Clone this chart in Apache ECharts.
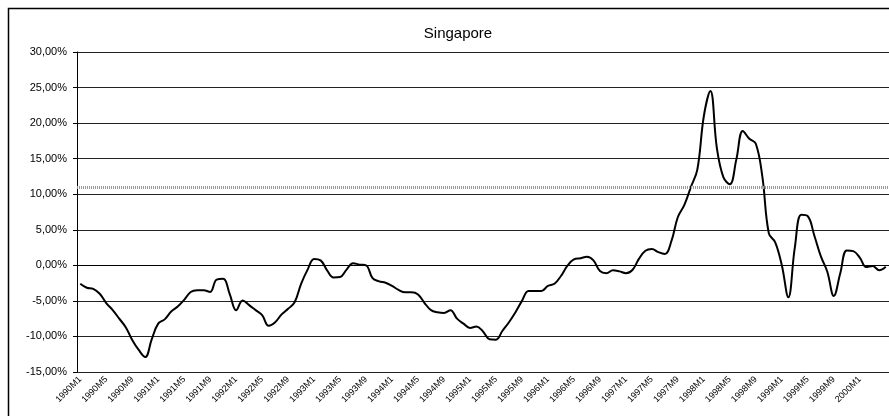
<!DOCTYPE html>
<html>
<head>
<meta charset="utf-8">
<title>Singapore</title>
<script src="https://cdn.jsdelivr.net/npm/echarts@6/dist/echarts.min.js"></script>
<style>
  html, body { margin: 0; padding: 0; background: #fff; }
  #chart { width: 889px; height: 416px; }
</style>
</head>
<body>
<div id="chart"></div>
<script>
// monthly periods 1990M1 .. 2000M5
const startYear = 1990
const monthCount = 125
const months = []
for (let i = 0; i < monthCount; i++) {
  months.push((startYear + Math.floor(i / 12)) + 'M' + (i % 12 + 1))
}

// values in percent
const values = [
  -2.6, -3.15, -3.3, -4.0, -5.3, -6.3, -7.5, -8.7, -10.5, -11.9,
  -12.9, -10.4, -8.2, -7.6, -6.5, -5.8, -4.85, -3.75, -3.5, -3.5,
  -3.75, -2.0, -1.9, -4.0, -6.3, -4.95, -5.6, -6.3, -7.0, -8.5,
  -8.0, -6.9, -6.1, -5.2, -2.6, -0.6, 0.9, 0.7, -0.7, -1.7,
  -1.65, -0.6, 0.3, 0.1, 0.0, -1.8, -2.25, -2.45, -2.9, -3.45,
  -3.8, -3.8, -4.1, -5.3, -6.3, -6.6, -6.7, -6.3, -7.5, -8.2,
  -8.8, -8.6, -9.3, -10.4, -10.45, -9.2, -8.0, -6.6, -5.0, -3.6,
  -3.6, -3.6, -2.9, -2.6, -1.5, -0.05, 0.85, 1.0, 1.2, 0.7,
  -0.8, -1.1, -0.7, -0.85, -1.1, -0.65, 0.9, 2.05, 2.3, 1.85,
  1.6, 3.4, 6.8, 8.5, 11.0, 13.5, 21.0, 24.5, 16.5, 12.4,
  11.4, 14.9, 18.9, 17.8, 17.1, 12.5, 4.5, 3.2, 0.0, -4.5,
  2.5, 7.1, 6.9, 4.2, 1.3, -0.9, -4.3, -1.1, 2.1, 2.0,
  1.1, -0.25, -0.1, -0.7, -0.2
]

// dotted reference level
const thresholdLevel = 11.0

// y axis range
const yMin = -15
const yMax = 30
const yStep = 5

const chart = echarts.init(document.getElementById('chart'))

const fontFamily = '"Liberation Sans", Arial, sans-serif'

const option = {
  animation: false,
  backgroundColor: '#fff',
  title: {
    text: 'Singapore',
    left: 453,
    top: 21,
    textAlign: 'center',
    textStyle: { fontFamily, fontSize: 15, fontWeight: 'normal', color: '#000' }
  },
  graphic: [{
    type: 'rect',
    shape: { x: 8.5, y: 8.5, width: 1000, height: 1000 },
    style: { fill: 'none', stroke: '#000', lineWidth: 1.5 },
    silent: true
  }],
  grid: { left: 77, right: 0, top: 52, bottom: 44, containLabel: false },
  xAxis: {
    type: 'category',
    data: months,
    boundaryGap: true,
    axisLine: { lineStyle: { color: '#000', width: 1 } },
    axisTick: { length: 4, interval: 0, lineStyle: { color: '#000' } },
    axisLabel: {
      interval: 3,
      rotate: 45,
      showMaxLabel: false,
      fontFamily,
      fontSize: 9,
      color: '#000',
      margin: 6
    },
    splitLine: { show: false }
  },
  yAxis: {
    type: 'value',
    min: yMin,
    max: yMax,
    interval: yStep,
    axisLine: { show: true, lineStyle: { color: '#000', width: 1 } },
    axisTick: { show: true, length: 4, lineStyle: { color: '#000' } },
    axisLabel: {
      fontFamily,
      fontSize: 11,
      color: '#000',
      margin: 10,
      formatter: v => v.toFixed(2).replace('.', ',') + '%'
    },
    splitLine: { lineStyle: { color: '#222', width: 1 } }
  },
  series: [{
    type: 'line',
    data: values,
    smooth: 0.4,
    symbol: 'none',
    lineStyle: { color: '#000', width: 2 },
    markLine: {
      silent: true,
      symbol: 'none',
      label: { show: false },
      lineStyle: { color: '#999', type: [1, 1], width: 3 },
      data: [{ yAxis: thresholdLevel }]
    },
    z: 3
  }]
}

chart.setOption(option)
</script>
</body>
</html>
